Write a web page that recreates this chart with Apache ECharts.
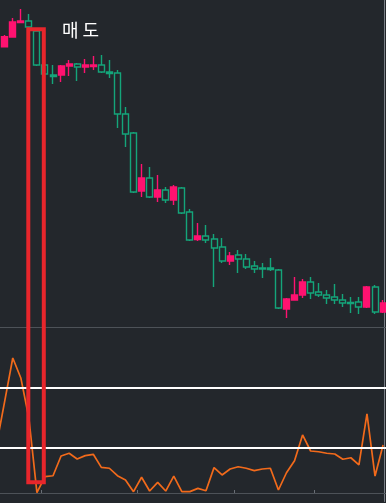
<!DOCTYPE html>
<html><head><meta charset="utf-8">
<script src="https://cdn.jsdelivr.net/npm/echarts@6/dist/echarts.min.js"></script>
<style>html,body{margin:0;padding:0;background:#23272c;overflow:hidden}#c{width:386px;height:503px}</style>
</head><body><div id="c"></div>
<script>
const categories = ['D0','D1','D2','D3','D4','D5','D6','D7','D8','D9','D10','D11','D12','D13','D14','D15','D16','D17','D18','D19','D20','D21','D22','D23','D24','D25','D26','D27','D28','D29','D30','D31','D32','D33','D34','D35','D36','D37','D38','D39','D40','D41','D42','D43','D44','D45','D46','D47','D48'];
// [open, close, low, high]
const candles = [
 ['-','-','-','-'],
 [2803,2903,2795,2920],
 [2900,3050,2900,3090],
 [3045,3060,3040,3180],
 [3060,3000,2970,3130],
 [2960,2620,2610,2970],
 [2620,2530,2520,2630],
 [2520,2505,2430,2620],
 [2520,2610,2450,2620],
 [2610,2630,2510,2670],
 [2630,2600,2460,2640],
 [2600,2620,2540,2680],
 [2605,2620,2570,2710],
 [2620,2550,2540,2720],
 [2550,2535,2490,2670],
 [2540,2130,1990,2570],
 [2130,1930,1800,2200],
 [1940,1350,1340,1950],
 [1360,1490,1300,1630],
 [1490,1300,1290,1600],
 [1300,1370,1250,1520],
 [1370,1270,1240,1400],
 [1270,1400,1220,1420],
 [1390,1140,1130,1400],
 [1150,870,860,1180],
 [875,910,860,1040],
 [910,870,840,1020],
 [880,790,400,930],
 [800,660,640,890],
 [660,710,620,750],
 [720,680,540,770],
 [680,600,580,730],
 [610,580,540,660],
 [590,580,490,640],
 [590,575,560,690],
 [570,190,180,580],
 [180,280,90,290],
 [270,320,270,500],
 [320,450,290,480],
 [450,340,280,500],
 [350,320,300,440],
 [320,290,230,370],
 [300,270,230,430],
 [270,240,200,330],
 [245,235,140,300],
 [250,200,130,300],
 [200,400,190,410],
 [400,150,130,420],
 [150,240,140,270]
];
const rsi = [32.7,61.3,90,76.7,50,0.2,10.9,11.5,24.7,26.5,22.7,24.9,25.8,17.1,16.5,11.5,8.7,0.9,10.5,1.3,7.1,1.3,11.3,0.9,0.9,3.1,1.5,16.9,12,16,17.5,16.5,14.9,16,16.5,2,13.5,21.5,38.7,28,27.5,26.5,26,22.5,23.5,18.7,52.7,11.3,32];
const rsiLevels = [70, 30];
const tickIndices = [6, 18, 30, 40];
const signalText = '매 도';

const BG = '#23272c';
const chart = echarts.init(document.getElementById('c'), null, {renderer:'canvas'});
const axisGray = '#4d5258';
chart.setOption({
  animation: false,
  backgroundColor: BG,
  grid: [
    {left: -7.35, top: 0, width: 394.45, height: 327, outerBoundsMode:'none', containLabel:false},
    {left: -7.35, top: 327, width: 394.45, height: 174.5, outerBoundsMode:'none', containLabel:false}
  ],
  xAxis: [
    {type:'category', gridIndex:0, data:categories, boundaryGap:true,
     axisLine:{show:true, lineStyle:{color:axisGray, width:1}}, axisTick:{show:false}, axisLabel:{show:false}, splitLine:{show:false}},
    {type:'category', gridIndex:1, data:categories, boundaryGap:true,
     axisLine:{show:true, lineStyle:{color:axisGray, width:1}},
     axisTick:{show:true, inside:true, length:3, lineStyle:{color:'#6a6f76'}, interval:(i)=>tickIndices.includes(i)},
     axisLabel:{show:false}, splitLine:{show:false}}
  ],
  yAxis: [
    {type:'value', gridIndex:0, min:0, max:3270, position:'right', offset:-2.4,
     axisLine:{show:true, lineStyle:{color:'#7a7f86'}}, axisTick:{show:false}, axisLabel:{show:false}, splitLine:{show:false}},
    {type:'value', gridIndex:1, min:-5.67, max:110.67, position:'right', offset:-2.4,
     axisLine:{show:true, lineStyle:{color:'#7a7f86'}}, axisTick:{show:false}, axisLabel:{show:false}, splitLine:{show:false}}
  ],
  series: [
    {type:'candlestick', xAxisIndex:0, yAxisIndex:0, data:candles, barWidth:6.5,
     itemStyle:{color:'#ff1270', color0:BG, borderColor:'#ff1270', borderColor0:'#14a57a', borderWidth:1.4}},
    {type:'line', xAxisIndex:1, yAxisIndex:1, data:rsi, symbol:'none', z:2,
     lineStyle:{color:'#f26a1b', width:1.7},
     markLine:{symbol:'none', silent:true, label:{show:false}, z:5,
       lineStyle:{color:'#ffffff', width:2, type:'solid'},
       emphasis:{disabled:true},
       data: rsiLevels.map(v=>({yAxis:v}))}}
  ],
  graphic: [
    {type:'rect', z:100, shape:{x:28.3, y:29.2, width:15.5, height:453}, style:{fill:'none', stroke:'#e8262c', lineWidth:4}},
    {type:'text', z:100, style:{x:62, y:21, text:signalText, fill:'#ffffff', font:'18px "Noto Sans CJK KR"', verticalAlign:'top'}}
  ]
});
</script></body></html>
